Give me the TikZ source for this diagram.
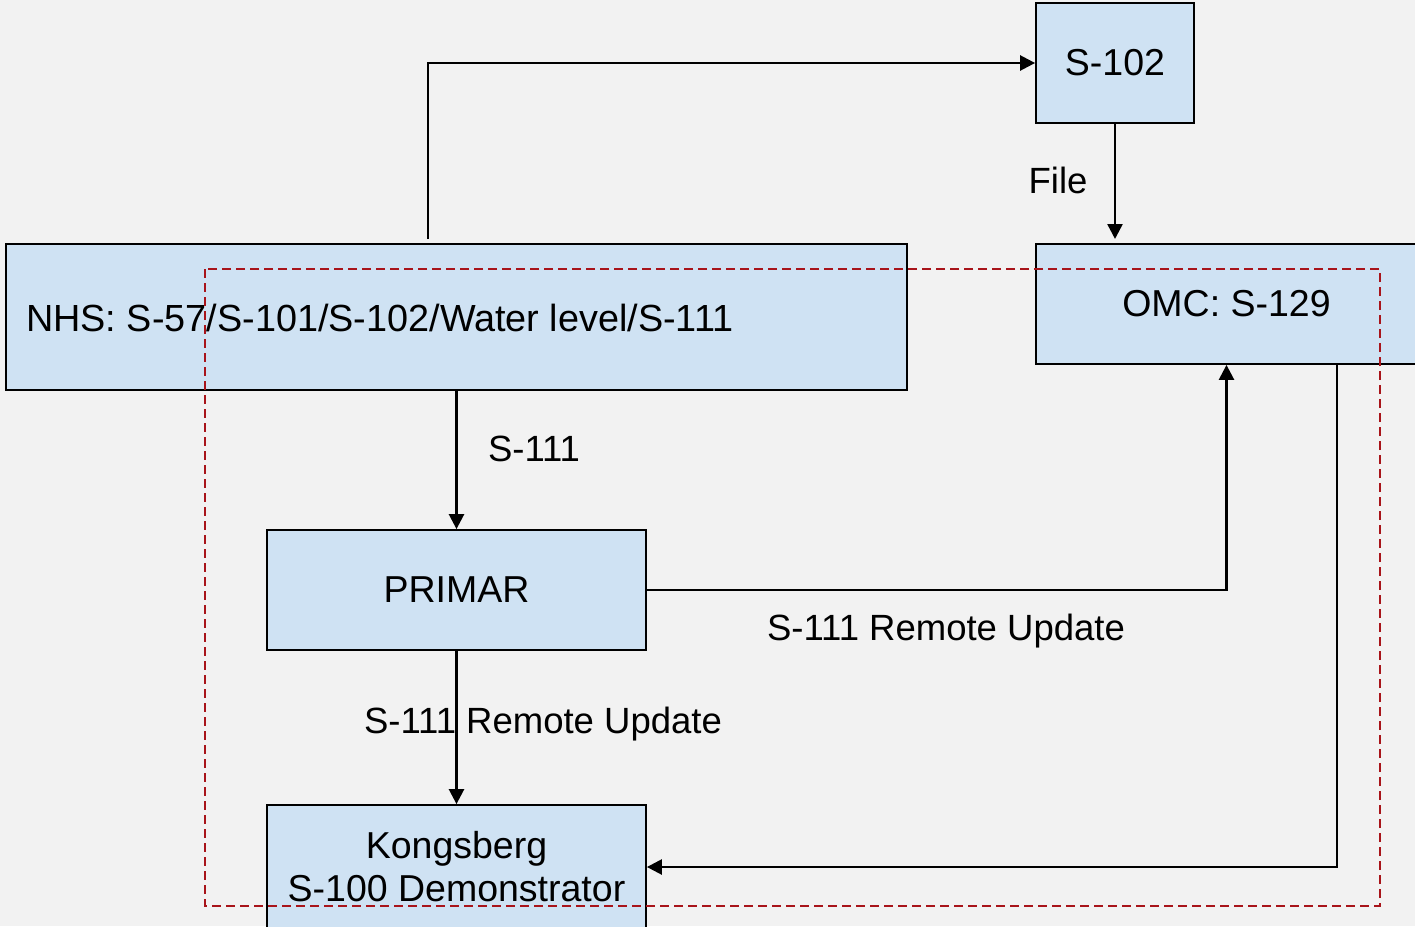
\documentclass[tikz,border=0pt]{standalone}
\usepackage{fontspec}
\setmainfont{Liberation Sans}
\usetikzlibrary{arrows.meta}
\definecolor{bgcol}{HTML}{F2F2F2}
\definecolor{boxfill}{HTML}{CFE2F3}
\definecolor{dred}{HTML}{A8141A}
\tikzset{
  box/.style={draw=black, fill=boxfill, line width=1.8pt, rectangle, inner sep=0pt, align=center, font=\fontsize{37.5}{43}\selectfont},
  arr/.style={draw=black, line width=2.5pt, -{Triangle[length=15pt,width=15pt]}},
  lbl/.style={font=\fontsize{36.5}{42}\selectfont, inner sep=0pt},
  region/.style={draw=dred, line width=1.6pt, dash pattern=on 9pt off 5pt}
}
\begin{document}
\begin{tikzpicture}[x=1pt,y=-1pt]
\useasboundingbox (0,0) rectangle (1415,926);
\clip (0,0) rectangle (1415,926);
\fill[bgcol] (0,0) rectangle (1415,926);
% boxes
\node[box, minimum width=158pt, minimum height=120pt] (s102) at (1115,63) {S-102};
\node[box, minimum width=381pt, minimum height=120pt] (omc) at (1226.5,304) {OMC: S-129};
\node[box, minimum width=901pt, minimum height=146pt] (nhs) at (456.5,317) {};
\node[anchor=west, inner sep=0pt, font=\fontsize{37.8}{43}\selectfont] (nhstext) at (26,318) {NHS: S-57/S-101/S-102/Water level/S-111};
\node[box, minimum width=379pt, minimum height=120pt] (primar) at (456.5,590) {PRIMAR};
\node[box, minimum width=379pt, minimum height=124pt] (kong) at (456.5,867) {Kongsberg\\S-100 Demonstrator};
% connectors
\coordinate (nhsout) at (428,239);
\draw[arr] (nhsout) |- (s102.west);
\coordinate (omcin) at (1115,239);
\draw[arr] (s102.south) -- (omcin);
\draw[arr] (nhs.south) -- (primar.north);
\draw[arr] (primar.east) -| (omc.south);
\draw[arr] (primar.south) -- (kong.north);
\coordinate (omcout) at (1337,364);
\draw[arr] (omcout) |- (kong.east);
% labels
\node[lbl] (lfile) at (1058,180) {File};
\node[lbl] (ls111) at (534,449) {S-111};
\node[lbl] (lru1) at (946,631) {S-111 Remote Update};
\node[lbl] (lru2) at (543,724) {S-111 Remote Update};
% dashed region
\draw[region] (205,269) rectangle (1380,906);
\end{tikzpicture}
\end{document}
